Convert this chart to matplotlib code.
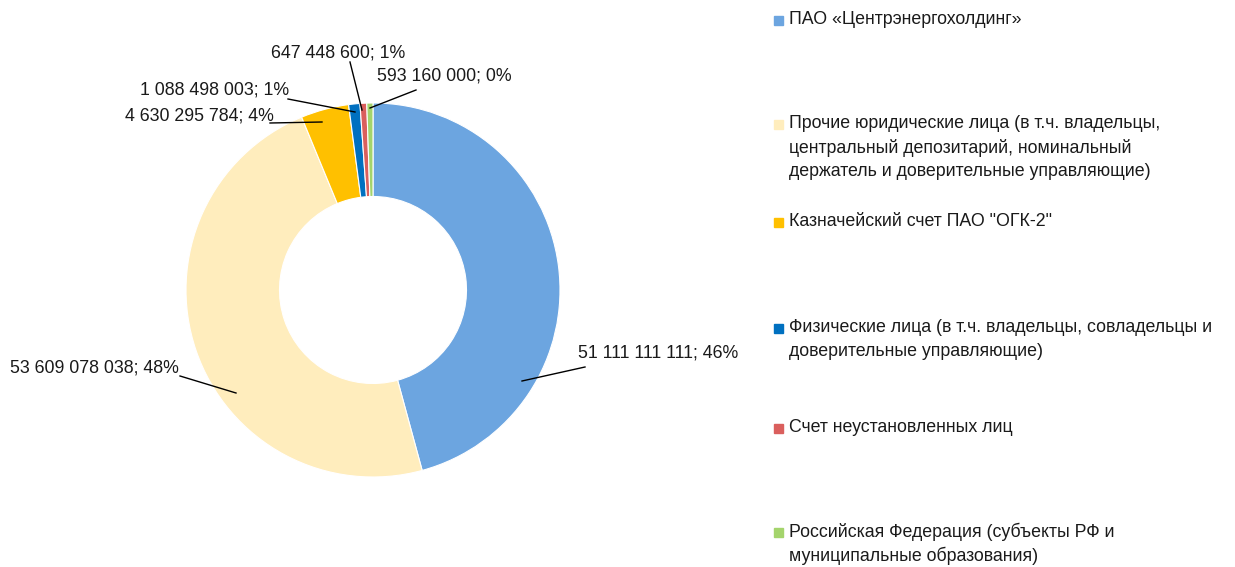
import matplotlib
matplotlib.use("Agg")
import matplotlib.pyplot as plt
from matplotlib.patches import Rectangle

plt.rcParams['font.family'] = ['Liberation Sans Narrow', 'Liberation Sans', 'DejaVu Sans']

categories = [
    "ПАО «Центрэнергохолдинг»",
    "Прочие юридические лица (в т.ч. владельцы,\nцентральный депозитарий, номинальный\nдержатель и доверительные управляющие)",
    "Казначейский счет ПАО \"ОГК-2\"",
    "Физические лица (в т.ч. владельцы, совладельцы и\nдоверительные управляющие)",
    "Счет неустановленных лиц",
    "Российская Федерация (субъекты РФ и\nмуниципальные образования)",
]
values = [51111111111, 53609078038, 4630295784, 1088498003, 647448600, 593160000]
pct_labels = ["46%", "48%", "4%", "1%", "1%", "0%"]
colors = ["#6CA5E0", "#FFEDBD", "#FFC000", "#0070C0", "#DA5F5D", "#A4D46C"]

W, H = 1235, 567
fig = plt.figure(figsize=(W / 100, H / 100), dpi=100)
ax = fig.add_axes([0, 0, 1, 1])

cx, cy, r = 373, 290, 187
wedges, _ = ax.pie(values, colors=colors, startangle=90, counterclock=False,
                   center=(cx, H - cy), radius=r,
                   wedgeprops=dict(width=r * 0.5, edgecolor='white', linewidth=0.8))
ax.set_aspect('auto')
ax.set_xlim(0, W)
ax.set_ylim(0, H)
ax.axis('off')

def fmt(v):
    return f"{v:,}".replace(",", " ")

# label text position (left x, center y) and leader line (from, to), pixel coords
label_pos = [(578, 353), (10, 368), (125, 116), (140, 90), (271, 53), (377, 76)]
leaders = [((585, 367), (522, 381)),
           ((180, 376), (236, 393)),
           ((270, 123), (322, 122)),
           ((288, 99), (355, 112)),
           ((350, 62), (362, 110)),
           ((416, 90), (370, 108))]

for i, v in enumerate(values):
    tx, ty = label_pos[i]
    ax.text(tx, H - ty, f"{fmt(v)}; {pct_labels[i]}", fontsize=12.8,
            va='center', ha='left', color='#1a1a1a')
    (x0, y0), (x1, y1) = leaders[i]
    ax.plot([x0, x1], [H - y0, H - y1], color='black', lw=1)

# legend
leg_y = [20, 124, 222, 328, 428, 532]
for i, lab in enumerate(categories):
    y = leg_y[i]
    ax.add_patch(Rectangle((774, H - y - 5), 9, 9, color=colors[i]))
    for k, line in enumerate(lab.split("\n")):
        ax.text(789, H - y - k * 24, line, fontsize=12.8, va='center', ha='left',
                color='#1a1a1a')

fig.savefig("out.png", dpi=100)
